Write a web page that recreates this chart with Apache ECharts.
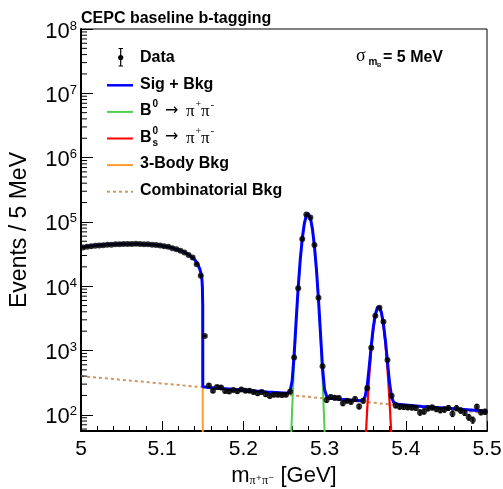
<!DOCTYPE html>
<html><head><meta charset="utf-8">
<script src="https://cdn.jsdelivr.net/npm/echarts@6/dist/echarts.min.js"></script>
<style>html,body{margin:0;padding:0;background:#fff}#c{width:503px;height:489px}</style>
</head><body><div id="c"></div>
<script>
// ---- data ----
const massBins = [
5.0025,5.0075,5.0125,5.0175,5.0225,5.0275,5.0325,5.0375,5.0425,5.0475,
5.0525,5.0575,5.0625,5.0675,5.0725,5.0775,5.0825,5.0875,5.0925,5.0975,
5.1025,5.1075,5.1125,5.1175,5.1225,5.1275,5.1325,5.1375,5.1425,5.1475,
5.1525,5.1575,5.1625,5.1675,5.1725,5.1775,5.1825,5.1875,5.1925,5.1975,
5.2025,5.2075,5.2125,5.2175,5.2225,5.2275,5.2325,5.2375,5.2425,5.2475,
5.2525,5.2575,5.2625,5.2675,5.2725,5.2775,5.2825,5.2875,5.2925,5.2975,
5.3025,5.3075,5.3125,5.3175,5.3225,5.3275,5.3325,5.3375,5.3425,5.3475,
5.3525,5.3575,5.3625,5.3675,5.3725,5.3775,5.3825,5.3875,5.3925,5.3975,
5.4025,5.4075,5.4125,5.4175,5.4225,5.4275,5.4325,5.4375,5.4425,5.4475,
5.4525,5.4575,5.4625,5.4675,5.4725,5.4775,5.4825,5.4875,5.4925,5.4975];
const eventCounts = [
40000,41000,42000,42500,43000,43500,44000,44200,44800,45000,
45200,45500,45300,45600,45200,45000,44800,44300,43800,43000,
42000,41000,39000,37500,35500,33500,30500,28000,22000,14600,
1680,285,237,270,266,234,230,243,232,248,
237,237,226,216,226,208,196,206,205,203,
206,228,780,9300,54000,130000,117000,43700,6600,570,
170,189,184,182,151,166,159,176,135,165,
258,1100,3470,4630,2800,712,198,140,134,132,
131,130,128,109,113,126,130,123,118,121,
128,104,127,117,108,92,83,134,110,112];

const sigBkgMass = [5.000,5.010,5.020,5.030,5.040,5.050,5.060,5.070,5.080,5.090,5.100,5.110,5.120,5.125,5.130,5.135,5.140,5.143,5.146,5.148,5.149,5.1495,5.1499,5.150,
5.155,5.170,5.190,5.210,5.230,5.250,5.255,
5.2575,5.2600,5.2625,5.2650,5.2675,5.2700,5.2725,5.2750,5.2775,5.2795,5.2825,5.2850,5.2875,5.2900,5.2925,5.2950,5.2975,5.3000,5.3025,5.3050,
5.320,5.335,5.345,
5.3475,5.3500,5.3525,5.3550,5.3575,5.3600,5.3625,5.3650,5.3665,5.3675,5.3700,5.3725,5.3750,5.3775,5.3800,5.3825,5.3850,
5.390,5.420,5.460,5.500];
const sigBkgVal = [40500,42000,43200,44100,44800,45200,45400,45300,44900,44000,42600,40300,36800,34800,32300,29500,26000,23000,19000,15500,12500,9500,5000,272,
268,258,247,236,226,218,216,
235,335,862,3000,9690,25800,55100,93700,126500,136200,115400,77900,41800,17900,6160,1790,530,245,195,183,
174,168,166,
170,194,287,568,1210,2310,3650,4660,4850,4765,3900,2565,1385,652,312,190,156,
146,135,124,114];

const threeBodyMass = [5.000,5.010,5.020,5.030,5.040,5.050,5.060,5.070,5.080,5.090,5.100,5.110,5.120,5.125,5.130,5.135,5.140,5.143,5.146,5.148,5.149,5.1495,5.1499,5.150];
const threeBodyVal = [40100,41600,42800,43700,44400,44800,45000,44900,44500,43600,42300,40000,36500,34500,32000,29200,25700,22700,18700,15200,12200,9200,4700,1];

const b0Mass = [5.2550,5.2575,5.2600,5.2625,5.2650,5.2675,5.2700,5.2725,5.2750,5.2775,5.2795,5.2825,5.2850,5.2875,5.2900,5.2925,5.2950,5.2975,5.3000,5.3025];
const b0Val = [2.0,17.7,120,650,2790,9480,25600,54900,93500,126300,136000,115200,77700,41600,17700,5970,1600,340,57,7.6];

const bsMass = [5.3450,5.3475,5.3500,5.3525,5.3550,5.3575,5.3600,5.3625,5.3650,5.3665,5.3675,5.3700,5.3725,5.3750,5.3775,5.3800,5.3825,5.3850];
const bsVal = [0.9,5.9,30.6,125,407,1051,2152,3496,4508,4700,4614,3747,2415,1236,502,162,41,8.4];

const combMass = [5.0, 5.5];
const combVal = [400, 106];

const yMinorTicks = [60,70,80,90,
200,300,400,500,600,700,800,900,
2000,3000,4000,5000,6000,7000,8000,9000,
2e4,3e4,4e4,5e4,6e4,7e4,8e4,9e4,
2e5,3e5,4e5,5e5,6e5,7e5,8e5,9e5,
2e6,3e6,4e6,5e6,6e6,7e6,8e6,9e6,
2e7,3e7,4e7,5e7,6e7,7e7,8e7,9e7];

// ---- chart ----
const FONT = '"Liberation Sans", Arial, Helvetica, sans-serif';
const SERIF = '"Liberation Serif", "DejaVu Serif", serif';
const pairs = (xs, ys) => xs.map((x, i) => [x, ys[i]]);
const dataPts = massBins.map((m, i) => [m, eventCounts[i], Math.sqrt(eventCounts[i])]);

const chart = echarts.init(document.getElementById('c'), null, {renderer: 'canvas', width: 503, height: 489});

function lineSeries(name, xs, ys, color, width, z, dash) {
  return {
    name, type: 'line', data: pairs(xs, ys), symbol: 'none', showSymbol: false,
    clip: true, silent: true, z, animation: false,
    lineStyle: {color, width, type: dash || 'solid'},
    emphasis: {disabled: true}
  };
}

const rows = [57.5, 84.1, 110.7, 137.3, 163.9, 190.5];
const legendLine = (i, color, width, dash) => ({
  type: 'line', silent: true, z: 100,
  shape: {x1: 107, y1: rows[i] + 1.2, x2: 133, y2: rows[i] + 1.2},
  style: {stroke: color, lineWidth: width, lineDash: dash || null}
});
const boldText = (x, y, text, size) => ({
  type: 'text', silent: true, z: 100, x, y,
  style: {text, font: 'bold ' + (size || 16) + 'px ' + FONT, fill: '#000', align: 'left', verticalAlign: 'middle'}
});
const plainText = (x, y, text, font) => ({
  type: 'text', silent: true, z: 100, x, y,
  style: {text, font, fill: '#000', align: 'left', verticalAlign: 'middle'}
});
function decayRow(i, sub) {
  const y = rows[i];
  const els = [
    boldText(140, y, 'B'),
    boldText(152.5, y - 6, '0', 10),
    plainText(165, y, '\u2192', '16px "DejaVu Sans", sans-serif'),
    plainText(186, y + 1, '\u03c0', '17px ' + SERIF),
    plainText(195.5, y - 6, '+', '10px ' + SERIF),
    plainText(201, y + 1, '\u03c0', '17px ' + SERIF),
    plainText(210.5, y - 6, '-', '11px ' + SERIF)
  ];
  if (sub) els.push(boldText(152.5, y + 6, 's', 10));
  return els;
}

const option = {
  animation: false,
  backgroundColor: '#fff',
  grid: {left: 81, top: 29, width: 406, height: 402, show: true, borderColor: '#000', borderWidth: 1,
         backgroundColor: 'transparent', containLabel: false, outerBoundsMode: 'none'},
  xAxis: {
    type: 'value', min: 5, max: 5.5, interval: 0.1,
    axisLine: {show: true, onZero: false, lineStyle: {color: '#000', width: 2}},
    axisTick: {show: true, inside: true, length: 10, lineStyle: {color: '#000', width: 1}},
    minorTick: {show: true, splitNumber: 5, length: 5, lineStyle: {color: '#000', width: 1}},
    axisLabel: {color: '#000', fontSize: 21, fontFamily: FONT, margin: 8, showMinLabel: true, showMaxLabel: true,
      formatter: v => String(Number(v.toFixed(2)))},
    splitLine: {show: false}, minorSplitLine: {show: false}
  },
  yAxis: {
    type: 'log', logBase: 10, min: 56, max: 1e8,
    axisLine: {show: true, lineStyle: {color: '#000', width: 2}},
    axisTick: {show: true, inside: true, length: 12, lineStyle: {color: '#000', width: 1}},
    axisLabel: {
      margin: 4, padding: [5, 0, 0, 0], showMinLabel: true, showMaxLabel: true,
      formatter: v => {
        const e = Math.log10(v);
        if (Math.abs(e - Math.round(e)) > 1e-6) return '';
        return '{b|10}{s|' + Math.round(e) + '}';
      },
      rich: {
        b: {fontSize: 22, fontFamily: FONT, color: '#000', lineHeight: 24},
        s: {fontSize: 13, fontFamily: FONT, color: '#000', lineHeight: 12, verticalAlign: 'top'}
      }
    },
    splitLine: {show: false}
  },
  series: [
    lineSeries('Combinatorial Bkg', combMass, combVal, '#d19560', 2, 2, [3, 3]),
    lineSeries('3-Body Bkg', threeBodyMass, threeBodyVal, '#ff9a30', 2, 3),
    lineSeries('B0', b0Mass, b0Val, '#4fcf4f', 2, 3),
    lineSeries('Bs', bsMass, bsVal, '#ff0000', 2.2, 3),
    lineSeries('Sig + Bkg', sigBkgMass, sigBkgVal, '#0000ff', 3, 4),
    {
      name: 'errors', type: 'custom', data: dataPts, clip: true, silent: true, z: 5,
      renderItem: (params, api) => {
        const m = api.value(0), v = api.value(1), e = api.value(2);
        const t = api.coord([m, v + e]), b = api.coord([m, Math.max(v - e, 1e-3)]);
        return {type: 'group', children: [
          {type: 'line', shape: {x1: t[0], y1: t[1], x2: b[0], y2: b[1]}, style: {stroke: '#000', lineWidth: 1.2}},
          {type: 'line', shape: {x1: t[0] - 1.5, y1: t[1], x2: t[0] + 1.5, y2: t[1]}, style: {stroke: '#000', lineWidth: 1}},
          {type: 'line', shape: {x1: b[0] - 1.5, y1: b[1], x2: b[0] + 1.5, y2: b[1]}, style: {stroke: '#000', lineWidth: 1}}
        ]};
      }
    },
    {
      name: 'Data', type: 'scatter', data: dataPts.map(p => [p[0], p[1]]), symbol: 'circle', symbolSize: 6,
      itemStyle: {color: '#000'}, z: 6, silent: true, emphasis: {disabled: true}
    },
    {
      name: 'yMinor', type: 'custom', data: yMinorTicks.map(v => [5, v]), silent: true, z: 10, clip: false,
      renderItem: (params, api) => {
        const p = api.coord([5, api.value(1)]);
        return {type: 'line', shape: {x1: p[0], y1: p[1], x2: p[0] + 6, y2: p[1]}, style: {stroke: '#000', lineWidth: 1}};
      }
    }
  ],
  graphic: [
    boldText(81, 18.5, 'CEPC baseline b-tagging'),
    // legend
    {type: 'line', silent: true, z: 100, shape: {x1: 120.7, y1: 48.5, x2: 120.7, y2: 66}, style: {stroke: '#000', lineWidth: 1.2}},
    {type: 'line', silent: true, z: 100, shape: {x1: 118.5, y1: 48.5, x2: 123, y2: 48.5}, style: {stroke: '#000', lineWidth: 1}},
    {type: 'line', silent: true, z: 100, shape: {x1: 118.5, y1: 66, x2: 123, y2: 66}, style: {stroke: '#000', lineWidth: 1}},
    {type: 'circle', silent: true, z: 100, shape: {cx: 120.7, cy: 57.5, r: 2.6}, style: {fill: '#000'}},
    boldText(140, rows[0], 'Data'),
    legendLine(1, '#0000ff', 2.5),
    boldText(140, rows[1], 'Sig + Bkg'),
    legendLine(2, '#4fcf4f', 2),
    ...decayRow(2, false),
    legendLine(3, '#ff0000', 2),
    ...decayRow(3, true),
    legendLine(4, '#ff9a30', 2),
    boldText(140, rows[4], '3-Body Bkg'),
    legendLine(5, '#d19560', 2, [3, 3]),
    boldText(140, rows[5], 'Combinatorial Bkg'),
    // sigma label
    plainText(356, 56, '\u03c3', '18px ' + SERIF),
    boldText(368.5, 62, 'm', 10),
    boldText(377, 65, 'B', 6),
    boldText(383, 57.5, '= 5 MeV', 16),
    // y title
    {type: 'text', silent: true, z: 100, x: 20, y: 230, rotation: Math.PI / 2,
     style: {text: 'Events / 5 MeV', font: '23px ' + FONT, fill: '#000', align: 'center', verticalAlign: 'middle'}},
    // x title
    {type: 'text', silent: true, z: 100, x: 284, y: 476,
     style: {text: '{m|m}{sub|\u03c0\u207a\u03c0\u207b}{g| [GeV]}', align: 'center', verticalAlign: 'middle',
       rich: {
         m: {font: '22px ' + FONT, fill: '#000', lineHeight: 22},
         sub: {font: '12px ' + SERIF, fill: '#000', lineHeight: 10, verticalAlign: 'bottom'},
         g: {font: '22px ' + FONT, fill: '#000', lineHeight: 22}
       }}}
  ]
};
chart.setOption(option);
</script>
</body></html>
